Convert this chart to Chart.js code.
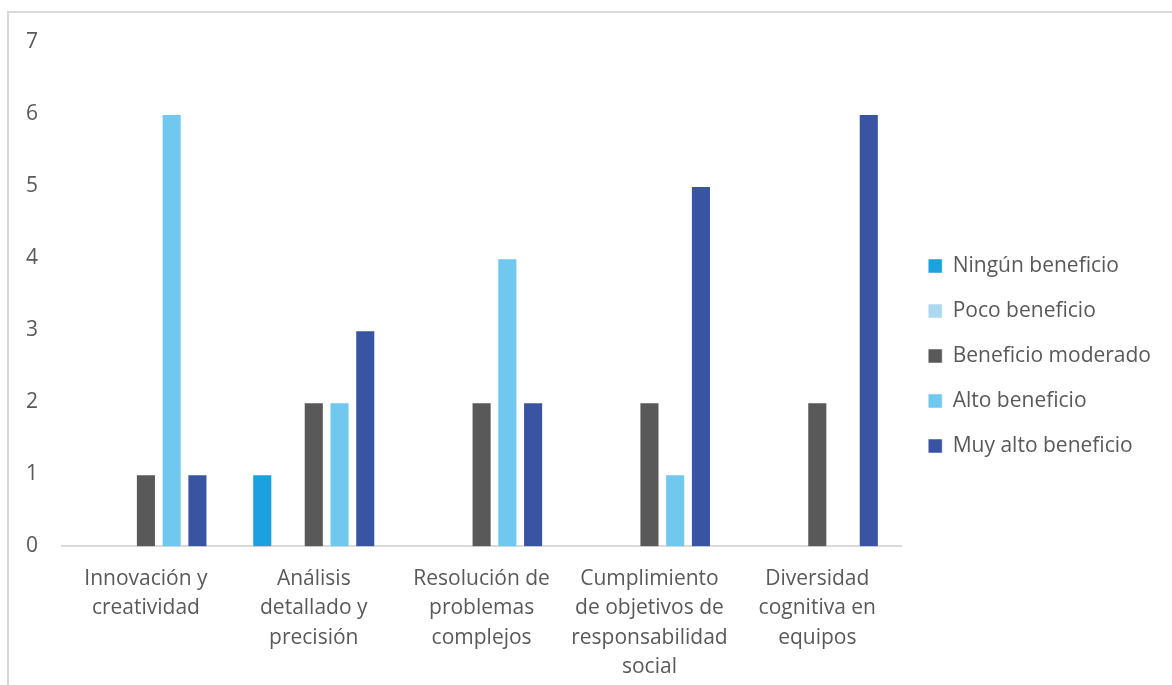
<!DOCTYPE html>
<html>
<head>
<meta charset="utf-8">
<script src="https://cdn.jsdelivr.net/npm/chart.js@4"></script>
<style>
  html, body { margin: 0; padding: 0; background: #fff; overflow: hidden; }
  #frame { position: absolute; left: 7px; top: 11px; width: 1200px; height: 700px; border: 2px solid #d9d9d9; }
  #wrap { position: absolute; left: 0; top: 0; width: 1172px; height: 700px; }
</style>
</head>
<body>
<div id="frame"></div>
<div id="wrap"><canvas id="chart"></canvas></div>
<script>
  // categories and series
  const categorias = [
    ['Innovación y', 'creatividad'],
    ['Análisis', 'detallado y', 'precisión'],
    ['Resolución de', 'problemas', 'complejos'],
    ['Cumplimiento', 'de objetivos de', 'responsabilidad', 'social'],
    ['Diversidad', 'cognitiva en', 'equipos']
  ];
  const ningunBeneficio = [0, 1, 0, 0, 0];
  const pocoBeneficio = [0, 0, 0, 0, 0];
  const beneficioModerado = [1, 2, 2, 2, 2];
  const altoBeneficio = [6, 2, 4, 1, 0];
  const muyAltoBeneficio = [1, 3, 2, 5, 6];
  const yTicks = [0, 1, 2, 3, 4, 5, 6, 7];

  const fuente = '"Open Sans", sans-serif';
  const gris = '#595959';

  const serie = (label, data, color) => ({
    label, data,
    backgroundColor: color,
    borderColor: 'rgba(255,255,255,0.5)',
    borderWidth: 1,
    categoryPercentage: 0.767,
    barPercentage: 0.78
  });

  // nudge the legend up a bit, like the original layout
  const moverLeyenda = {
    id: 'moverLeyenda',
    afterLayout(chart) {
      const lg = chart.legend;
      lg.top -= 15; lg.bottom -= 15;
      lg.left += 3; lg.right += 3;
    }
  };

  const ctx = document.getElementById('chart').getContext('2d');
  new Chart(ctx, {
    type: 'bar',
    data: {
      labels: categorias,
      datasets: [
        serie('Ningún beneficio', ningunBeneficio, '#1BA1DF'),
        serie('Poco beneficio', pocoBeneficio, '#ADD8F0'),
        serie('Beneficio moderado', beneficioModerado, '#595959'),
        serie('Alto beneficio', altoBeneficio, '#71C8EE'),
        serie('Muy alto beneficio', muyAltoBeneficio, '#3A54A4')
      ]
    },
    plugins: [moverLeyenda],
    options: {
      responsive: true,
      maintainAspectRatio: false,
      animation: false,
      layout: { padding: { top: 42, left: 2, right: 14, bottom: 0 } },
      plugins: {
        tooltip: { enabled: false },
        legend: {
          position: 'right',
          labels: {
            boxWidth: 14, boxHeight: 14, padding: 24,
            color: gris,
            font: { family: fuente, size: 21 }
          }
        }
      },
      scales: {
        x: {
          grid: { display: false, drawTicks: false },
          border: { color: '#d9d9d9', width: 2 },
          ticks: {
            color: gris, padding: 18, maxRotation: 0, autoSkip: false,
            font: { family: fuente, size: 21, lineHeight: 1.4 }
          }
        },
        y: {
          min: 0, max: 7,
          afterBuildTicks: axis => { axis.ticks = yTicks.map(v => ({ value: v })); },
          grid: { display: false, drawTicks: false },
          border: { display: false },
          ticks: {
            color: gris, padding: 24,
            font: { family: fuente, size: 21 }
          }
        }
      }
    }
  });
</script>
</body>
</html>
